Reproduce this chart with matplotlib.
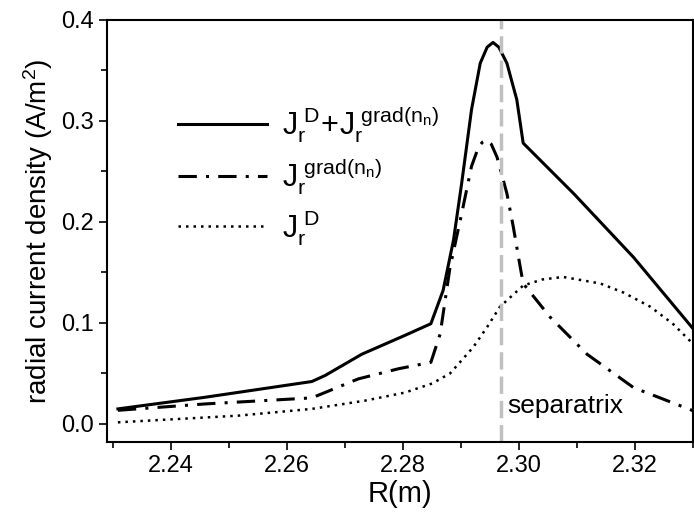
import matplotlib
matplotlib.use('Agg')
import matplotlib.pyplot as plt
from matplotlib.ticker import MultipleLocator

plt.rcParams['font.family'] = ['Liberation Sans', 'DejaVu Sans']
plt.rcParams['mathtext.fontset'] = 'custom'
plt.rcParams['mathtext.rm'] = 'Liberation Sans'
plt.rcParams['mathtext.it'] = 'Liberation Sans'

# total J_r^D + J_r^grad(n_n)
r_tot = [2.2309, 2.2459, 2.2643, 2.2666, 2.2729, 2.2803, 2.2848, 2.2869, 2.2887,
         2.2901, 2.2918, 2.2933, 2.2945, 2.2955, 2.2965, 2.2979, 2.2996, 2.3007,
         2.3094, 2.3197, 2.33]
j_tot = [0.0149, 0.0264, 0.042, 0.048, 0.069, 0.0876, 0.0992, 0.132, 0.182,
         0.238, 0.311, 0.357, 0.373, 0.3776, 0.373, 0.357, 0.321, 0.278,
         0.228, 0.165, 0.094]

# J_r^grad(n_n)
r_grad = [2.2309, 2.2459, 2.2643, 2.2723, 2.2792, 2.2848, 2.2864, 2.2881, 2.2901,
          2.2918, 2.2930, 2.2937, 2.2943, 2.2952, 2.2962, 2.2979, 2.2990, 2.3002,
          2.3007, 2.3053, 2.3117, 2.3197, 2.33]
j_grad = [0.0135, 0.0198, 0.0258, 0.0446, 0.0546, 0.061, 0.089, 0.155, 0.208,
          0.255, 0.274, 0.279, 0.281, 0.277, 0.264, 0.228, 0.195, 0.155,
          0.139, 0.106, 0.069, 0.036, 0.013]

# J_r^D
r_d = [2.2309, 2.2516, 2.2643, 2.2734, 2.2803, 2.2850, 2.2881, 2.2921, 2.2945,
       2.2967, 2.3007, 2.3040, 2.3076, 2.3140, 2.3180, 2.3226, 2.3265, 2.33]
j_d = [0.0016, 0.0082, 0.0149, 0.023, 0.031, 0.040, 0.050, 0.076, 0.096,
       0.116, 0.137, 0.143, 0.1455, 0.139, 0.130, 0.116, 0.099, 0.079]

r_sep = 2.2968

fig = plt.figure(figsize=(6.94, 5.22), dpi=100)
ax = fig.add_axes([0.154, 0.153, 0.845, 0.809])

l1, = ax.plot(r_tot, j_tot, color='black', lw=2.2, ls='-')
l2, = ax.plot(r_grad, j_grad, color='black', lw=2.2, ls=(0, (6, 3, 1, 3)))
l3, = ax.plot(r_d, j_d, color='black', lw=1.8, ls=(0, (1, 2)))

ax.axvline(r_sep, color='#c0c0c0', lw=2.5, ls=(0, (5, 2)))
ax.text(r_sep + 0.0012, 0.006, 'separatrix', fontsize=19, va='bottom', ha='left')

ax.set_xlim(2.229, 2.33)
ax.set_ylim(-0.018, 0.4)
ax.xaxis.set_major_locator(MultipleLocator(0.02))
ax.xaxis.set_minor_locator(MultipleLocator(0.01))
ax.yaxis.set_major_locator(MultipleLocator(0.1))
ax.yaxis.set_minor_locator(MultipleLocator(0.05))
ax.xaxis.set_major_formatter(plt.FuncFormatter(lambda v, p: '%.2f' % v))
ax.yaxis.set_major_formatter(plt.FuncFormatter(lambda v, p: '%.1f' % v))
ax.tick_params(which='both', direction='out', labelsize=17, width=1.2)
ax.tick_params(which='major', length=6)
ax.tick_params(which='minor', length=4)
for s in ax.spines.values():
    s.set_linewidth(1.5)

ax.set_xlabel('R(m)', fontsize=21, labelpad=2)
ax.set_ylabel(r'radial current density (A/m$^\mathregular{2}$)', fontsize=20, labelpad=4)

leg = ax.legend([l1, l2, l3],
                [r'$\mathregular{J_r^{\ D}\!+\!J_r^{\ grad(n_n)}}$',
                 r'$\mathregular{J_r^{\ grad(n_n)}}$',
                 r'$\mathregular{J_r^{\ D}}$'],
                loc='upper left', bbox_to_anchor=(0.075, 0.865), frameon=False,
                fontsize=22, handlelength=2.9, labelspacing=0.36, handletextpad=0.5)

fig.savefig('out.png', dpi=100)
